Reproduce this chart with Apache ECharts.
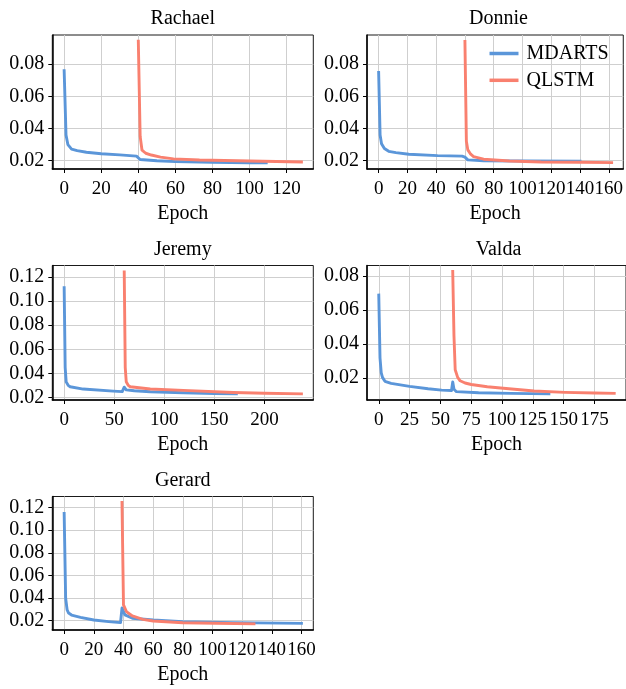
<!DOCTYPE html>
<html>
<head>
<meta charset="utf-8">
<script src="https://cdn.jsdelivr.net/npm/echarts@6/dist/echarts.min.js"></script>
<style>
  html, body { margin: 0; padding: 0; background: #fff; }
  #chart { width: 626px; height: 689px; }
</style>
</head>
<body>
<div id="chart"></div>
<script>
// Training loss per epoch, as [epoch, loss] pairs, for each dataset and model.
const rachaelMdarts = [[0,0.0760],[1,0.0360],[2,0.0300],[4,0.0272],[7,0.0262],[12,0.0252],[20,0.0243],[30,0.0236],[39,0.0228],[41,0.0207],[50,0.0199],[60,0.0194],[80,0.0189],[100,0.0187],[109,0.0186]];
const rachaelQlstm  = [[40,0.0944],[41,0.0350],[42,0.0265],[44,0.0246],[47,0.0235],[52,0.0222],[59,0.0211],[73,0.0204],[100,0.0198],[128,0.0192]];

const donnieMdarts = [[0,0.0749],[1,0.0360],[2,0.0305],[4,0.0275],[7,0.0258],[12,0.0250],[21,0.0240],[41,0.0231],[58,0.0228],[60,0.0222],[62,0.0205],[73,0.0199],[100,0.0198],[140,0.0197]];
const donnieQlstm  = [[60,0.0942],[61,0.0320],[62,0.0267],[64,0.0240],[66,0.0225],[73,0.0209],[91,0.0198],[113,0.0192],[140,0.0190],[162,0.0188]];

const jeremyMdarts = [[0,0.1113],[1,0.0450],[2,0.0329],[4,0.0300],[6,0.0288],[19,0.0269],[49,0.0252],[58,0.0248],[60,0.0285],[62,0.0262],[70,0.0255],[86,0.0247],[119,0.0238],[150,0.0232],[172,0.0229]];
const jeremyQlstm  = [[60,0.1244],[61,0.0450],[62,0.0330],[64,0.0300],[66,0.0288],[86,0.0269],[119,0.0258],[169,0.0241],[200,0.0234],[237,0.0229]];

const valdaMdarts = [[0,0.0689],[1,0.0320],[2,0.0232],[3,0.0205],[5,0.0182],[10,0.0170],[25,0.0152],[40,0.0138],[51,0.0130],[59,0.0128],[60,0.0178],[61,0.0135],[63,0.0121],[81,0.0115],[107,0.0111],[138,0.0108]];
const valdaQlstm  = [[60,0.0828],[61,0.0450],[62,0.0250],[64,0.0205],[66,0.0185],[70,0.0172],[75,0.0163],[88,0.0150],[101,0.0141],[126,0.0125],[151,0.0117],[175,0.0113],[191,0.0111]];

const gerardMdarts = [[0,0.1147],[1,0.0400],[2,0.0295],[3,0.0268],[5,0.0250],[11,0.0230],[20,0.0206],[30,0.0192],[38,0.0183],[39,0.0312],[41,0.0252],[46,0.0222],[60,0.0206],[80,0.0192],[114,0.0183],[160,0.0177]];
const gerardQlstm  = [[39,0.1245],[40,0.0340],[42,0.0280],[46,0.0242],[53,0.0212],[60,0.0197],[80,0.0182],[102,0.0177],[128,0.0172]];

// Tick values
const rachaelXTicks = [0,20,40,60,80,100,120];
const donnieXTicks  = [0,20,40,60,80,100,120,140,160];
const jeremyXTicks  = [0,50,100,150,200];
const valdaXTicks   = [0,25,50,75,100,125,150,175];
const gerardXTicks  = [0,20,40,60,80,100,120,140,160];
const lossTicksSmall = [0.02,0.04,0.06,0.08];
const lossTicksLarge = [0.02,0.04,0.06,0.08,0.10,0.12];

const titles = ['Rachael','Donnie','Jeremy','Valda','Gerard'];
const seriesNames = ['MDARTS','QLSTM'];

const FONT = '"Liberation Serif", "DejaVu Serif", serif';
const COLORS = { MDARTS: '#5b96d9', QLSTM: '#f9806f' };

const panels = [
  { title: titles[0], grid: {left: 52.3, top: 35, width: 261, height: 134}, x: [-6.4, 134.4],  y: [0.0148, 0.0982], xTicks: rachaelXTicks, yTicks: lossTicksSmall, md: rachaelMdarts, ql: rachaelQlstm },
  { title: titles[1], grid: {left: 367,  top: 35, width: 263, height: 134}, x: [-8.1, 170.1],  y: [0.0148, 0.0982], xTicks: donnieXTicks,  yTicks: lossTicksSmall, md: donnieMdarts,  ql: donnieQlstm },
  { title: titles[2], grid: {left: 52.3, top: 265.5, width: 261, height: 134.5}, x: [-11.85, 248.85], y: [0.0178, 0.1297], xTicks: jeremyXTicks, yTicks: lossTicksLarge, md: jeremyMdarts, ql: jeremyQlstm },
  { title: titles[3], grid: {left: 367,  top: 265.5, width: 263, height: 134.5}, x: [-9.55, 200.55], y: [0.0072, 0.0863], xTicks: valdaXTicks, yTicks: lossTicksSmall, md: valdaMdarts, ql: valdaQlstm },
  { title: titles[4], grid: {left: 52.3, top: 496.5, width: 261, height: 133.5}, x: [-8, 168], y: [0.0118, 0.1297], xTicks: gerardXTicks, yTicks: lossTicksLarge, md: gerardMdarts, ql: gerardQlstm }
];

const grids = [], xAxes = [], yAxes = [], series = [], graphics = [];

panels.forEach((p, i) => {
  grids.push(Object.assign({ show: true, borderColor: '#1a1a1a', borderWidth: 1, backgroundColor: 'transparent', containLabel: false }, p.grid));

  xAxes.push({
    type: 'value', gridIndex: i, min: p.x[0], max: p.x[1],
    name: 'Epoch', nameLocation: 'middle', nameGap: 35,
    nameTextStyle: { fontFamily: FONT, fontSize: 20, color: '#000' },
    axisLine: { show: true, onZero: false, lineStyle: { color: '#000', width: 1.5 } },
    axisTick: { show: true, length: 4, customValues: p.xTicks, lineStyle: { color: '#000', width: 1 } },
    axisLabel: { customValues: p.xTicks, margin: 11, fontFamily: FONT, fontSize: 19, color: '#000',
                 showMinLabel: true, showMaxLabel: true, hideOverlap: false },
    splitLine: { show: true, lineStyle: { color: '#cfcfcf', width: 1 } }
  });

  yAxes.push({
    type: 'value', gridIndex: i, min: p.y[0], max: p.y[1],
    axisLine: { show: true, onZero: false, lineStyle: { color: '#000', width: 1.5 } },
    axisTick: { show: true, length: 4, customValues: p.yTicks, lineStyle: { color: '#000', width: 1 } },
    axisLabel: { customValues: p.yTicks, margin: 8, fontFamily: FONT, fontSize: 20, color: '#000',
                 showMinLabel: true, showMaxLabel: true, hideOverlap: false,
                 formatter: v => v.toFixed(2) },
    splitLine: { show: true, lineStyle: { color: '#cfcfcf', width: 1 } }
  });

  [[seriesNames[0], p.md], [seriesNames[1], p.ql]].forEach(([name, data]) => {
    series.push({
      name, type: 'line', xAxisIndex: i, yAxisIndex: i, data,
      symbol: 'none', smooth: false, clip: true, animation: false,
      lineStyle: { color: COLORS[name], width: 2.9, cap: 'square', join: 'round' },
      itemStyle: { color: COLORS[name] },
      emphasis: { disabled: true }
    });
  });

  graphics.push({
    type: 'text',
    x: p.grid.left + p.grid.width / 2,
    y: p.grid.top - 16,
    style: { text: p.title, font: '20px ' + FONT, fill: '#000', textAlign: 'center', textVerticalAlign: 'middle' }
  });
});

const chart = echarts.init(document.getElementById('chart'), null, { renderer: 'canvas' });
chart.setOption({
  backgroundColor: '#fff',
  animation: false,
  grid: grids,
  xAxis: xAxes,
  yAxis: yAxes,
  series,
  graphic: graphics,
  legend: {
    data: seriesNames.map(n => ({ name: n, icon: 'rect', itemStyle: { color: COLORS[n] } })),
    orient: 'vertical',
    left: 489.5, top: 43.5,
    padding: 0,
    itemWidth: 29, itemHeight: 3.5, itemGap: 6.8,
    textStyle: { fontFamily: FONT, fontSize: 20, color: '#000', padding: [0, 0, 0, 3] }
  }
});
</script>
</body>
</html>
